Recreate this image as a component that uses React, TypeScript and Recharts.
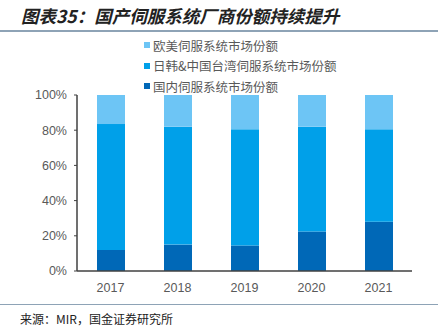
import { Bar, BarChart, XAxis, YAxis } from "recharts";

const YEARS = ["2017", "2018", "2019", "2020", "2021"];
const DOMESTIC = [12, 15, 14.5, 22.5, 28];
const JKT = [71.5, 67, 66, 59.5, 52.5];
const EUUS = [16.5, 18, 19.5, 18, 19.5];
const Y_TICKS = [0, 20, 40, 60, 80, 100];
const EDGE_TICKS = [0, 1, 2, 3, 4, 5];

const SERIES = [
  { key: "domestic", name: "国内伺服系统市场份额", color: "#0068B7" },
  { key: "jkt", name: "日韩&中国台湾伺服系统市场份额", color: "#00A0E9" },
  { key: "euus", name: "欧美伺服系统市场份额", color: "#6DC5F5" },
] as const;

const data = YEARS.map((year, i) => ({
  year,
  idx: i + 0.5,
  domestic: DOMESTIC[i],
  jkt: JKT[i],
  euus: EUUS[i],
}));

const FONT = '"Noto Sans CJK SC", "Noto Sans", sans-serif';
const AXIS = "#404040";
const TICK = { fill: "#595959", fontSize: 12.5, fontFamily: '"Liberation Sans", Arial, sans-serif' };

// 图例：从上到下 = 堆叠从上到下
function LegendList() {
  const rows = [...SERIES].reverse();
  return (
    <div style={{ position: "absolute", left: 144, top: 35, fontFamily: FONT, fontSize: 12.5, color: "#595959" }}>
      {rows.map((s) => (
        <div key={s.key} style={{ display: "flex", alignItems: "center", height: 20.5, whiteSpace: "nowrap" }}>
          <span
            style={{ width: 6, height: 6, background: s.color, marginRight: 3, display: "inline-block" }}
          />
          {s.name}
        </div>
      ))}
    </div>
  );
}

export default function App() {
  return (
    <div
      style={{ position: "absolute", left: 0, top: 0, width: 438, height: 327, background: "#fff", fontFamily: FONT }}
    >
      <div
        style={{
          position: "absolute",
          left: 21,
          top: 3,
          fontSize: 17.5,
          fontWeight: 700,
          fontStyle: "italic",
          color: "#222",
          whiteSpace: "nowrap",
        }}
      >
        图表35：国产伺服系统厂商份额持续提升
      </div>
      <div style={{ position: "absolute", left: 0, right: 0, top: 30, height: 1.5, background: "#8EA3B6" }} />
      <BarChart
        width={438}
        height={327}
        data={data}
        barCategoryGap={0}
        barSize={28}
        margin={{ top: 95, right: 26, left: 0, bottom: 26 }}
      >
        <XAxis
          xAxisId="edge"
          type="number"
          dataKey="idx"
          domain={[0, 5]}
          ticks={EDGE_TICKS}
          height={0}
          mirror
          tick={false}
          axisLine={false}
          tickSize={4}
          tickLine={{ stroke: AXIS }}
        />
        <XAxis
          xAxisId="cat"
          dataKey="year"
          height={30}
          tickLine={false}
          axisLine={{ stroke: AXIS, strokeWidth: 1.5 }}
          tick={TICK}
          tickMargin={6}
        />
        <YAxis
          width={77}
          domain={[0, 100]}
          ticks={Y_TICKS}
          tickFormatter={(v) => `${v}%`}
          tick={TICK}
          tickSize={3}
          tickMargin={7}
          axisLine={{ stroke: AXIS, strokeWidth: 1.5 }}
          tickLine={{ stroke: AXIS }}
        />
        {SERIES.map((s) => (
          <Bar
            key={s.key}
            xAxisId="cat"
            dataKey={s.key}
            name={s.name}
            stackId="a"
            fill={s.color}
            isAnimationActive={false}
          />
        ))}
      </BarChart>
      <LegendList />
      <div style={{ position: "absolute", left: 0, right: 0, top: 303.5, height: 1.5, background: "#8EA3B6" }} />
      <div
        style={{
          position: "absolute",
          left: 20,
          top: 310,
          fontSize: 12,
          color: "#222",
          whiteSpace: "nowrap",
        }}
      >
        来源：MIR，国金证券研究所
      </div>
    </div>
  );
}
